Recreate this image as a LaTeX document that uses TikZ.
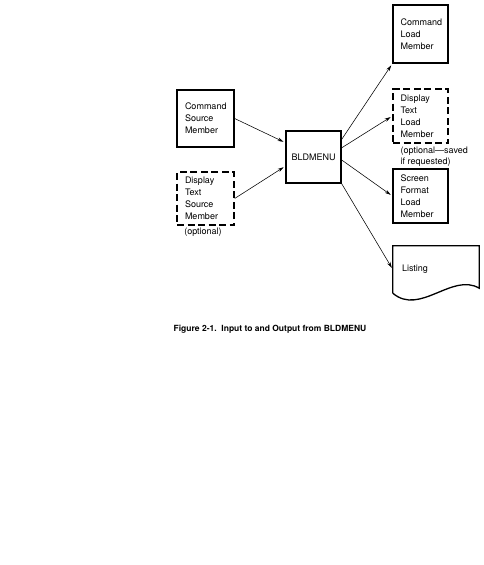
\documentclass[tikz,border=0pt]{standalone}
\usepackage{fontspec}
\setsansfont{TeX Gyre Heros}
\usetikzlibrary{arrows.meta}

\begin{document}
\begin{tikzpicture}[x=1pt,y=-1pt,font=\sffamily\fontsize{9}{12}\selectfont,
  membox/.style={draw,line width=1.3pt,minimum width=57pt,text width=41pt,
    inner xsep=8pt,inner ysep=0pt,align=left},
  optbox/.style={membox,dash pattern=on 7pt off 3.5pt},
  flow/.style={-{Stealth[length=6pt,width=3.5pt]},line width=0.55pt,shorten >=2pt}]
  \path[use as bounding box] (0,0) rectangle (484,565);
  \node[membox,minimum height=57pt] (cmdsrc) at (205.5,118.5)
    {Command\\Source\\Member};
  \node[optbox,minimum height=53pt] (dspsrc) at (205.5,198.5)
    {Display\\Text\\Source\\Member};
  \node (dspsrcnote) at (203,232) {(optional)};
  \node[draw,line width=1.3pt,minimum width=55pt,minimum height=52pt]
    (bld) at (313.5,157) {BLDMENU};
  \foreach \nm/\yy/\hh/\sty/\txt in {
    cmdload/34/58/membox/{Command\\Load\\Member},
    dspload/116/54/optbox/{Display\\Text\\Load\\Member},
    scrload/196/54/membox/{Screen\\Format\\Load\\Member}
  }{
    \node[\sty,minimum height=\hh pt,minimum width=55pt,text width=40pt,
      inner xsep=7.5pt] (\nm) at (420.5,\yy) {\txt};
  }
  \node[anchor=north west,align=left,inner sep=0pt,
    font=\sffamily\fontsize{9}{11}\selectfont] (dspnote) at (400.5,147)
    {(optional---saved\\if requested)};
  \node[minimum width=86pt,minimum height=47pt,text width=68pt,
    inner xsep=9pt,align=left] (listing) at (436,269.5) {Listing};
  \draw[line width=1.3pt] (listing.south west) -- (listing.north west)
    -- (listing.north east) -- ([yshift=5pt]listing.south east)
    .. controls +(-27,-16) and +(27,23) .. (listing.south west);
  \draw[flow] (cmdsrc.east) -- (bld.153);
  \draw[flow] (dspsrc.east) -- (bld.198);
  \draw[flow] (bld.32) -- (cmdload.south west);
  \draw[flow] (bld.18) -- (dspload.west);
  \draw[flow] (bld.-6) -- (scrload.west);
  \draw[flow] (bld.south east) -- (listing.west);
  \node[font=\sffamily\bfseries\fontsize{8.5}{10}\selectfont] (caption)
    at (270,329) {Figure 2-1.\ \ Input to and Output from BLDMENU};
\end{tikzpicture}
\end{document}
